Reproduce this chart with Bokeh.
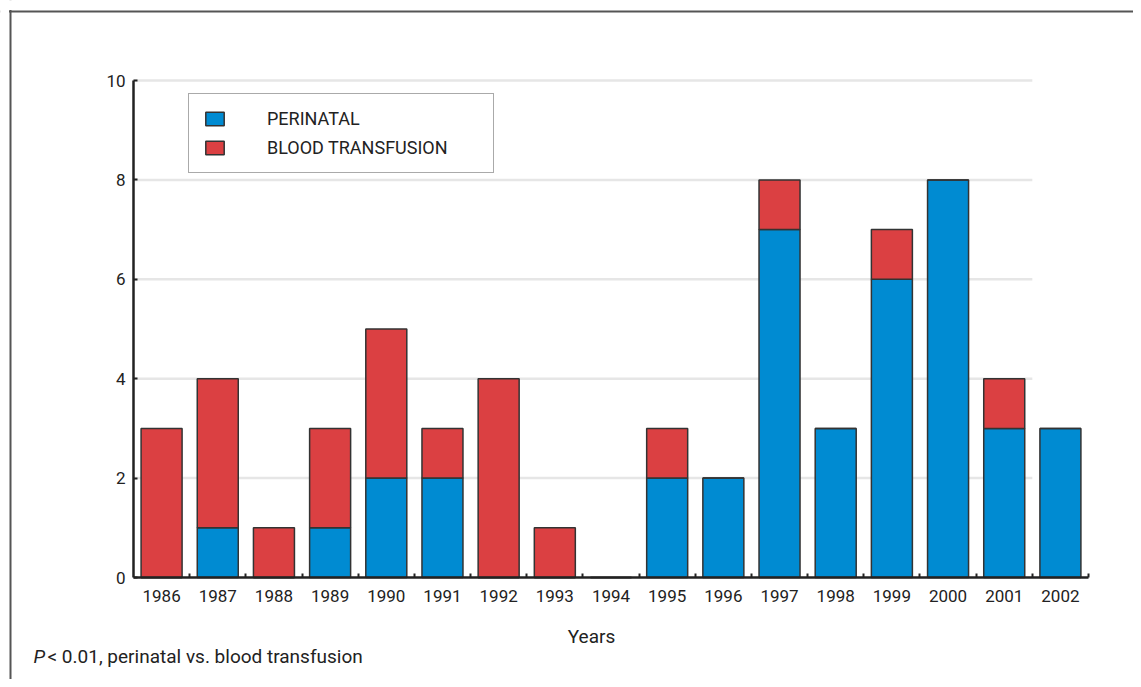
from bokeh.plotting import figure
from bokeh.models import (Range1d, FixedTicker, Legend, Label, Span, BoxAnnotation, ColumnDataSource,
                          LinearAxis)
from bokeh.embed import file_html
from bokeh.resources import INLINE

years = [1986, 1987, 1988, 1989, 1990, 1991, 1992, 1993, 1994, 1995, 1996, 1997, 1998, 1999, 2000, 2001, 2002]
perinatal = [0, 1, 0, 1, 2, 2, 0, 0, 0, 2, 2, 7, 3, 6, 8, 3, 3]
blood = [3, 3, 1, 2, 3, 1, 4, 1, 0, 1, 0, 1, 0, 1, 0, 1, 0]
y_ticks = [0, 2, 4, 6, 8, 10]
series = ["perinatal", "blood"]
series_labels = ["PERINATAL", "BLOOD TRANSFUSION"]
colors = ["#008bd2", "#db4042"]
x_title = "Years"
footnote_p = "P"
footnote_rest = "< 0.01, perinatal vs. blood transfusion"

FONT = "Roboto"
TXT = "#222222"

W, H = 1133, 679
# pixel box of the axes inside the canvas
AX_L, AX_R, AX_T, AX_B = 133, 1088, 80, 577
x0, x1 = years[0] - 0.5, years[-1] + 0.5
y0, y1 = y_ticks[0], y_ticks[-1]
xs = (x1 - x0) / (AX_R - AX_L)
ys = (y1 - y0) / (AX_B - AX_T)

p = figure(width=W, height=H, output_backend="svg", toolbar_location=None,
           x_axis_location=None, y_axis_location=None,
           x_range=Range1d(x0 - AX_L * xs, x1 + (W - AX_R) * xs),
           y_range=Range1d(y0 - (H - AX_B) * ys, y1 + AX_T * ys),
           min_border=0)
p.outline_line_color = None
p.xgrid.visible = False
p.ygrid.visible = False

# horizontal gridlines from tick values
gy = y_ticks[1:]
p.segment(x0=[x0] * len(gy), y0=gy, x1=[years[-2] + 0.5] * len(gy), y1=gy,
          line_color="#e6e6e6", line_width=2.5)

src = ColumnDataSource(dict(year=years, perinatal=perinatal, blood=blood))
r = p.vbar_stack(series, x="year", width=0.73, source=src, fill_color=colors,
                 line_color="#333333", line_width=1.5)

boundaries = [y + 0.5 for y in years]
xaxis = LinearAxis(ticker=FixedTicker(ticks=years, minor_ticks=boundaries),
                   fixed_location=y0, bounds=(x0, x1))
xaxis.major_tick_line_color = None
xaxis.minor_tick_in = 4
xaxis.minor_tick_out = 0
xaxis.minor_tick_line_width = 2
xaxis.minor_tick_line_color = TXT
xaxis.major_label_standoff = 6

yaxis = LinearAxis(ticker=FixedTicker(ticks=y_ticks), fixed_location=x0, bounds=(y0, y1))
yaxis.major_tick_in = 4
yaxis.major_tick_out = 0
yaxis.major_tick_line_width = 2
yaxis.major_tick_line_color = TXT
yaxis.minor_tick_line_color = None
yaxis.major_label_standoff = 8

for ax in (xaxis, yaxis):
    ax.axis_line_width = 2.5
    ax.axis_line_color = TXT
    ax.major_label_text_font = FONT
    ax.major_label_text_font_size = "17px"
    ax.major_label_text_color = TXT
p.add_layout(xaxis, "below")
p.add_layout(yaxis, "left")

legend = Legend(items=[(series_labels[i], [r[i]]) for i in range(2)], location=(188, 506))
legend.label_text_font = FONT
legend.label_text_font_size = "18px"
legend.label_text_color = TXT
legend.glyph_width = 23
legend.glyph_height = 17
legend.label_standoff = 41
legend.label_width = 212
legend.padding = 14
legend.spacing = 8
legend.border_line_color = "#555555"
legend.border_line_width = 1.5
legend.background_fill_alpha = 1
p.add_layout(legend)

# outer frame (left and top edges visible in the picture)
p.add_layout(Span(location=10, location_units="screen", dimension="height",
                  line_color="#555555", line_width=2))
p.add_layout(Span(location=H - 11, location_units="screen", dimension="width",
                  line_color="#555555", line_width=2))
# mask the parts of the frame lines that overshoot the corner
p.add_layout(BoxAnnotation(left=-20, right=W + 20, bottom=H - 9.5, top=H + 20,
                           left_units="screen", right_units="screen", top_units="screen", bottom_units="screen",
                           fill_color="white", fill_alpha=1, line_color=None))
p.add_layout(BoxAnnotation(left=-20, right=8.5, bottom=-20, top=H + 20,
                           left_units="screen", right_units="screen", top_units="screen", bottom_units="screen",
                           fill_color="white", fill_alpha=1, line_color=None))

p.add_layout(Label(x=591, y=H - 636, x_units="screen", y_units="screen", text=x_title,
                   text_font=FONT, text_font_size="19px", text_color=TXT,
                   text_align="center", text_baseline="alphabetic"))
p.add_layout(Label(x=33, y=H - 656, x_units="screen", y_units="screen", text=footnote_p,
                   text_font=FONT, text_font_size="19px", text_font_style="italic",
                   text_color=TXT, text_baseline="alphabetic"))
p.add_layout(Label(x=47, y=H - 656, x_units="screen", y_units="screen", text=footnote_rest,
                   text_font=FONT, text_font_size="19px", text_color=TXT,
                   text_baseline="alphabetic"))

open("out.html", "w").write(file_html(p, INLINE))
